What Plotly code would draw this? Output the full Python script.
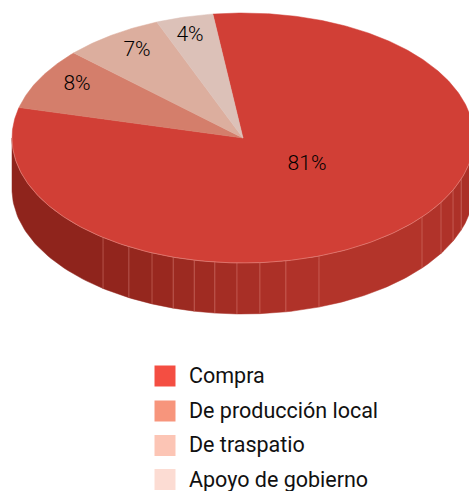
import numpy as np
import plotly.graph_objects as go

categories = ["Compra", "De producción local", "De traspatio", "Apoyo de gobierno"]
values = [81, 8, 7, 4]
top_colors = ["#d13f36", "#d47e6b", "#dcae9e", "#dcc1b8"]
legend_colors = ["#f44e42", "#f7957c", "#fcc5b5", "#fcdcd3"]

CX, CY, A, B, DEPTH = 243, 138, 231, 125, 51
START = -7.5  # degrees clockwise from 12 o'clock where Compra starts
label_x = [307, 77, 137, 190]
label_y = [165, 85, 51, 36]
seams = [-37.3, -29.6, -23.2, -17.6, -12.2, -7, -1.5, 4.2, 10.7, 19.2, 50.8, 59, 65.4, 70.8]
wall_colors = ["#8f241c", "#92251d", "#95271e", "#99281f", "#9c2a21", "#a02b22", "#a42d24", "#a82f26",
               "#ac3027", "#b03229", "#b3342a", "#b1332a", "#af3229", "#ad3128", "#ab3027"]
FONT = "Roboto, sans-serif"

def ell(deg_cw_from_top, dy=0):
    t = np.radians(deg_cw_from_top)
    return CX + A * np.sin(t), CY - B * np.cos(t) + dy

fig = go.Figure()

# side wall (angles measured from 6 o'clock, so 180 - angle from top)
edges = [-90] + seams + [90]
for i in range(len(edges) - 1):
    th = np.linspace(edges[i], edges[i + 1], 40)
    xt, yt = ell(180 - th)
    xb, yb = ell(180 - th[::-1], DEPTH)
    fig.add_trace(go.Scatter(x=np.r_[xt, xb, xt[0]], y=np.r_[yt, yb, yt[0]], mode="lines", fill="toself",
                             fillcolor=wall_colors[i], line=dict(color=wall_colors[i], width=0.5),
                             hoverinfo="skip", showlegend=False))
for s in seams:
    xt, yt = ell(180 - s)
    xb, yb = ell(180 - s, DEPTH)
    fig.add_trace(go.Scatter(x=[xt, xb], y=[yt, yb], mode="lines", line=dict(color="rgba(232,150,140,0.4)", width=1),
                             hoverinfo="skip", showlegend=False))

# top slices, drawn from the values
angle = START
total = sum(values)
for name, v, col in zip(categories, values, top_colors):
    span = 360 * v / total
    t = np.linspace(angle, angle + span, max(int(span * 2), 8))
    x, y = ell(t)
    fig.add_trace(go.Scatter(x=np.r_[CX, x, CX], y=np.r_[CY, y, CY], mode="lines", fill="toself", fillcolor=col,
                             line=dict(color=col, width=0.5), name=name, showlegend=False))
    angle += span

# pale rim along the front edge
th = np.linspace(-90, 90, 200)
xr, yr = ell(180 - th)
fig.add_trace(go.Scatter(x=xr, y=yr, mode="lines", line=dict(color="rgba(238,165,155,0.6)", width=0.8),
                         hoverinfo="skip", showlegend=False))

# percent labels
fig.add_trace(go.Scatter(x=label_x, y=label_y, mode="text", text=[f"{v}%" for v in values],
                         textfont=dict(family=FONT, size=21, color="#000000", weight=300),
                         hoverinfo="skip", showlegend=False))

# legend
ly = [376, 411, 445.5, 479.5]
text_y = [375, 410, 444.5, 479]
fig.add_trace(go.Scatter(x=[165] * 4, y=ly, mode="markers",
                         marker=dict(symbol="square", size=21, color=legend_colors, line=dict(width=0)),
                         hoverinfo="skip", showlegend=False))
for n, y in zip(categories, text_y):
    fig.add_annotation(x=189, y=y, text=n, showarrow=False, xanchor="left", yanchor="middle", xshift=-2,
                       font=dict(family=FONT, size=21.5, color="#111111"))

fig.update_layout(width=469, height=491, margin=dict(l=0, r=0, t=0, b=0), paper_bgcolor="white",
                  plot_bgcolor="white", showlegend=False)
fig.update_xaxes(range=[0, 469], visible=False)
fig.update_yaxes(range=[491, 0], visible=False)
fig.write_html("out.html", config={"displayModeBar": False},
               post_script="document.documentElement.style.overflow='hidden';document.body.style.margin='0';")
